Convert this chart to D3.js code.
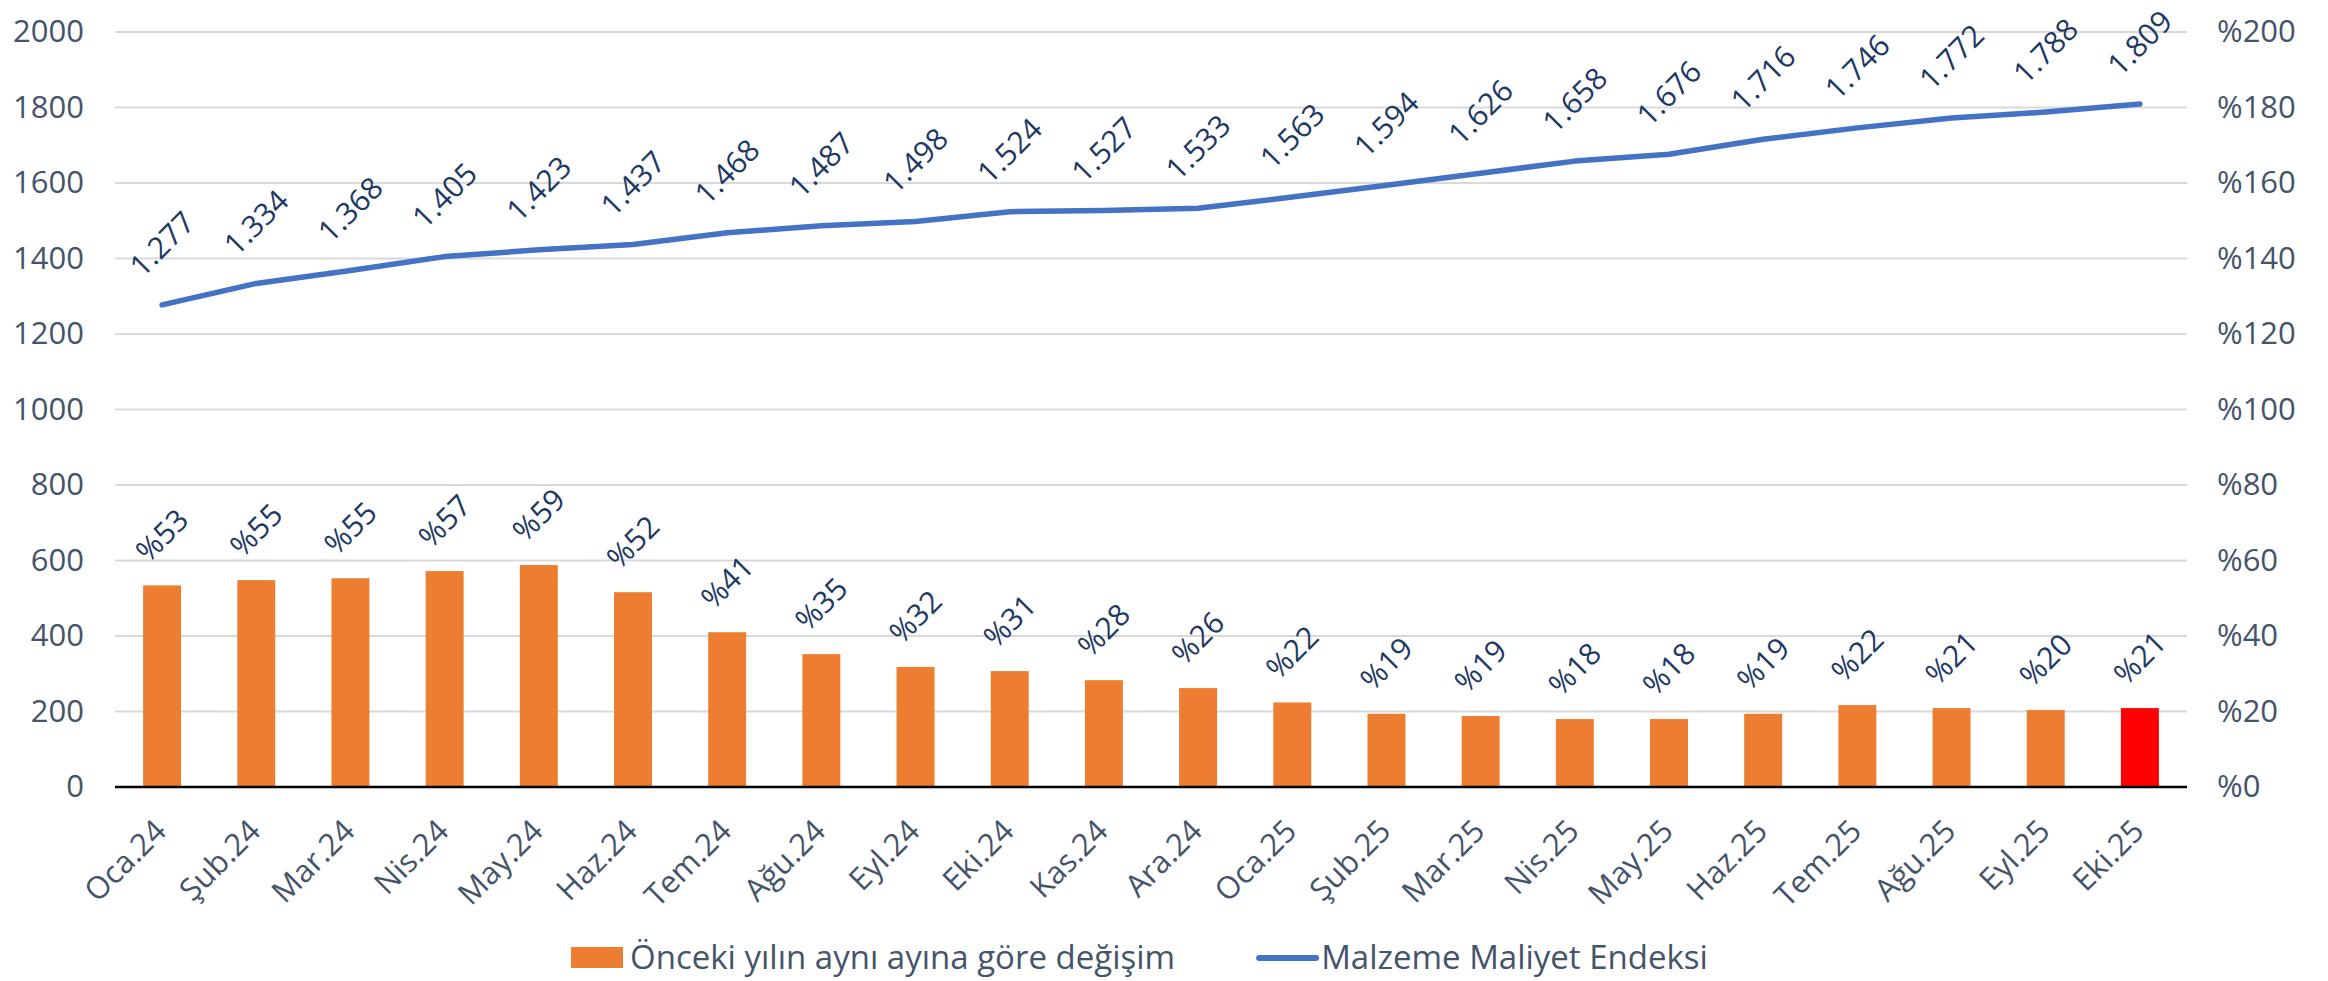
<!DOCTYPE html>
<html>
<head>
<meta charset="utf-8">
<script src="https://cdn.jsdelivr.net/npm/d3@7"></script>
<style>
  body { margin: 0; background: #fff; }
  svg { display: block; font-family: 'Open Sans', Lato, sans-serif; }
</style>
</head>
<body>
<div id="chart"></div>
<script>
// categories (months)
var months = ["Oca.24", "Şub.24", "Mar.24", "Nis.24", "May.24", "Haz.24", "Tem.24", "Ağu.24",
    "Eyl.24", "Eki.24", "Kas.24", "Ara.24", "Oca.25", "Şub.25", "Mar.25", "Nis.25",
    "May.25", "Haz.25", "Tem.25", "Ağu.25", "Eyl.25", "Eki.25"]
// yearly change, percent (right axis)
var yearlyChange = [53.4, 54.8, 55.3, 57.2, 58.8, 51.6, 41.0, 35.2, 31.8, 30.7, 28.3, 26.2,
    22.4, 19.4, 18.8, 18.0, 18.0, 19.4, 21.7, 20.9, 20.4, 20.9]
// material cost index (left axis)
var costIndex = [1277, 1334, 1368, 1405, 1423, 1437, 1468, 1487, 1498, 1524, 1527, 1533,
    1563, 1594, 1626, 1658, 1676, 1716, 1746, 1772, 1788, 1809]
// tick values
var leftTicks = [0, 200, 400, 600, 800, 1000, 1200, 1400, 1600, 1800, 2000]
var rightTicks = [0, 20, 40, 60, 80, 100, 120, 140, 160, 180, 200]
var legendLabels = ["Önceki yılın aynı ayına göre değişim", "Malzeme Maliyet Endeksi"]

// image dimensions
var w = 2328
var h = 981
// plot area edges
var plotLeft = 115, plotRight = 2187, plotTop = 32, plotBottom = 787

var axisColor = "#44546A"
var labelColor = "#203864"
var barColor = "#ED7D31"
var lastBarColor = "#FF0000"
var lineColor = "#4472C4"
var font = "'Open Sans', Lato, sans-serif"

var svg = d3.select("#chart").append("svg").attr("width", w).attr("height", h)

var trFormat = d3.formatLocale({ decimal: ",", thousands: ".", grouping: [3], currency: ["", "₺"] }).format(",")

var xScale = d3.scaleBand().domain(months).range([plotLeft, plotRight]).paddingInner(0.597).paddingOuter(0.2985)
var yLeft = d3.scaleLinear().domain([0, 2000]).range([plotBottom, plotTop])
var yRight = d3.scaleLinear().domain([0, 200]).range([plotBottom, plotTop])
function cx(m) { return xScale(m) + xScale.bandwidth() / 2 }

// gridlines
svg.append("g").selectAll("line")
    .data(leftTicks.filter(function(t) { return t > 0 }))
    .enter().append("line")
    .attr("x1", plotLeft).attr("x2", plotRight)
    .attr("y1", function(d) { return yLeft(d) }).attr("y2", function(d) { return yLeft(d) })
    .attr("stroke", "#D9D9D9").attr("stroke-width", 2)

// left axis
var gl = svg.append("g").attr("transform", "translate(" + plotLeft + ",0)")
    .call(d3.axisLeft(yLeft).tickValues(leftTicks).tickSize(0).tickPadding(31).tickFormat(d3.format("d")))
gl.select(".domain").remove()
gl.selectAll("text").attr("font-size", 31).attr("fill", axisColor).attr("font-family", font)

// right axis
var gr = svg.append("g").attr("transform", "translate(" + plotRight + ",0)")
    .call(d3.axisRight(yRight).tickValues(rightTicks).tickSize(0).tickPadding(30)
        .tickFormat(function(d) { return "%" + d }))
gr.select(".domain").remove()
gr.selectAll("text").attr("font-size", 31).attr("fill", axisColor).attr("font-family", font)

// bars
svg.append("g").selectAll("rect")
    .data(yearlyChange)
    .enter().append("rect")
    .attr("x", function(d, i) { return xScale(months[i]) })
    .attr("width", xScale.bandwidth())
    .attr("y", function(d) { return yRight(d) })
    .attr("height", function(d) { return plotBottom - yRight(d) })
    .attr("fill", function(d, i) { return i == months.length - 1 ? lastBarColor : barColor })

// x axis baseline
svg.append("line")
    .attr("x1", plotLeft).attr("x2", plotRight).attr("y1", plotBottom).attr("y2", plotBottom)
    .attr("stroke", "#000").attr("stroke-width", 2.5)

// x axis labels
svg.append("g").selectAll("text")
    .data(months)
    .enter().append("text")
    .attr("text-anchor", "end")
    .attr("transform", function(d) { return "translate(" + (cx(d) + 6) + "," + (plotBottom + 46) + ") rotate(-45)" })
    .attr("font-size", 31)
    .attr("fill", axisColor)
    .text(function(d) { return d })

// bar labels
svg.append("g").selectAll("text")
    .data(yearlyChange)
    .enter().append("text")
    .attr("text-anchor", "middle")
    .attr("dy", "0.35em")
    .attr("transform", function(d, i) { return "translate(" + cx(months[i]) + "," + (yRight(d) - 50) + ") rotate(-45)" })
    .attr("font-size", 30)
    .attr("fill", labelColor)
    .text(function(d) { return "%" + d3.format(".0f")(d) })

// index line
var line = d3.line()
    .x(function(d, i) { return cx(months[i]) })
    .y(function(d) { return yLeft(d) })
svg.append("path")
    .datum(costIndex)
    .attr("d", line)
    .attr("fill", "none")
    .attr("stroke", lineColor)
    .attr("stroke-width", 5.5)
    .attr("stroke-linecap", "round")
    .attr("stroke-linejoin", "round")

// line labels
svg.append("g").selectAll("text")
    .data(costIndex)
    .enter().append("text")
    .attr("text-anchor", "middle")
    .attr("dy", "0.35em")
    .attr("transform", function(d, i) { return "translate(" + cx(months[i]) + "," + (yLeft(d) - 61) + ") rotate(-45)" })
    .attr("font-size", 30)
    .attr("fill", labelColor)
    .text(function(d) { return trFormat(d) })

// legend
var legend = svg.append("g")
legend.append("rect")
    .attr("x", 571).attr("y", 947).attr("width", 52).attr("height", 21)
    .attr("fill", barColor)
var t1 = legend.append("text")
    .attr("x", 630).attr("y", 969)
    .attr("font-size", 33).attr("fill", axisColor)
    .text(legendLabels[0])
var x2 = 630 + t1.node().getComputedTextLength() + 84
legend.append("line")
    .attr("x1", x2).attr("x2", x2 + 57).attr("y1", 958).attr("y2", 958)
    .attr("stroke", lineColor).attr("stroke-width", 6).attr("stroke-linecap", "round")
legend.append("text")
    .attr("x", x2 + 62).attr("y", 969)
    .attr("font-size", 33).attr("fill", axisColor)
    .text(legendLabels[1])
</script>
</body>
</html>
